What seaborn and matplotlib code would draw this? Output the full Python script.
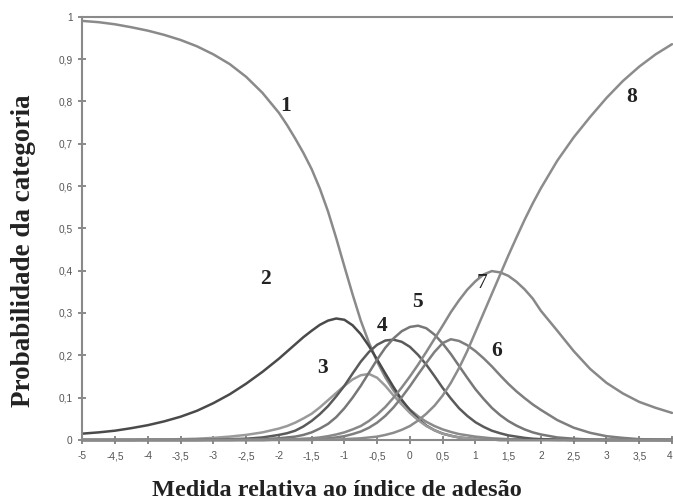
import numpy as np
import pandas as pd
import matplotlib
matplotlib.use('Agg')
import matplotlib.pyplot as plt
import seaborn as sns

sns.set_style('white')
plt.rcParams['font.family'] = ['Liberation Sans', 'DejaVu Sans']

# measure (x axis): every 0.25 on the tails, every 0.125 in the middle
medida = [-5, -4.75, -4.5, -4.25, -4, -3.75, -3.5, -3.25, -3, -2.75, -2.5, -2.25,
          -2, -1.875, -1.75, -1.625, -1.5, -1.375, -1.25, -1.125, -1, -0.875,
          -0.75, -0.625, -0.5, -0.375, -0.25, -0.125, 0, 0.125, 0.25, 0.375,
          0.5, 0.625, 0.75, 0.875, 1, 1.125, 1.25, 1.375, 1.5, 1.625, 1.75, 1.875,
          2, 2.25, 2.5, 2.75, 3, 3.25, 3.5, 3.75, 4]

cat1 = [.990, .987, .982, .975, .967, .957, .945, .930, .911, .888, .858, .820,
        .773, .744, .712, .678, .640, .594, .540, .477, .410, .344,
        .282, .230, .185, .148, .117, .092, .072, .056, .043, .033,
        .025, .019, .014, .011, .008, .006, .004, .003, .002, .002, .001, .001,
        .001, 0, 0, 0, 0, 0, 0, 0, 0]
cat2 = [.015, .018, .022, .028, .035, .044, .055, .069, .087, .108, .133, .161,
        .192, .209, .226, .243, .258, .272, .282, .287, .284, .271,
        .250, .222, .190, .157, .125, .095, .070, .050, .034, .023,
        .015, .010, .006, .004, .002, .001, .001, 0, 0, 0, 0, 0,
        0, 0, 0, 0, 0, 0, 0, 0, 0]
cat3 = [0, 0, 0, 0, .001, .001, .002, .003, .005, .008, .012, .018,
        .027, .033, .041, .051, .062, .077, .094, .111, .128, .143,
        .153, .156, .147, .128, .105, .084, .064, .047, .033, .023,
        .015, .010, .006, .004, .002, .001, .001, 0, 0, 0, 0, 0,
        0, 0, 0, 0, 0, 0, 0, 0, 0]
cat4 = [0, 0, 0, 0, 0, 0, 0, 0, .001, .002, .003, .006,
        .012, .016, .022, .032, .045, .061, .080, .103, .128, .157,
        .185, .208, .225, .235, .237, .232, .220, .201, .178, .151,
        .123, .098, .075, .057, .042, .031, .022, .016, .011, .008, .005, .003,
        .002, .001, 0, 0, 0, 0, 0, 0, 0]
cat5 = [0, 0, 0, 0, 0, 0, 0, 0, 0, 0, .001, .002,
        .004, .006, .008, .012, .018, .027, .038, .054, .075, .100,
        .128, .159, .190, .218, .240, .257, .267, .270, .264, .249,
        .228, .203, .175, .147, .120, .097, .076, .059, .045, .034, .025, .018,
        .013, .006, .003, .001, 0, 0, 0, 0, 0]
cat6 = [0, 0, 0, 0, 0, 0, 0, 0, 0, 0, 0, 0,
        .001, .001, .001, .002, .002, .003, .004, .006, .009, .014,
        .020, .029, .041, .057, .077, .101, .127, .155, .182, .208,
        .229, .238, .234, .224, .210, .193, .174, .153, .133, .115, .099, .084,
        .071, .047, .029, .017, .009, .005, .002, .001, 0]
cat7 = [0, 0, 0, 0, 0, 0, 0, 0, 0, 0, 0, 0,
        .001, .001, .002, .003, .004, .006, .009, .013, .018, .025,
        .033, .045, .060, .078, .100, .124, .150, .178, .208, .239,
        .270, .302, .330, .355, .375, .391, .399, .396, .388, .374, .356, .334,
        .305, .258, .210, .168, .135, .110, .090, .076, .064]
cat8 = [0, 0, 0, 0, 0, 0, 0, 0, 0, 0, 0, 0,
        0, 0, 0, 0, 0, .001, .001, .001, .002, .003,
        .004, .006, .008, .012, .017, .024, .033, .046, .062, .081,
        .105, .135, .170, .210, .255, .300, .345, .390, .435, .478, .520, .559,
        .595, .660, .715, .763, .808, .848, .882, .911, .935]

categorias = ['1', '2', '3', '4', '5', '6', '7', '8']
cores = ['#8a8a8a', '#4a4a4a', '#9a9a9a', '#5a5a5a', '#777777', '#7e7e7e', '#888888', '#8c8c8c']

# where the category numbers sit
rot_x = [-1.9, -2.2, -1.33, -0.43, 0.12, 1.33, 1.1, 3.39]
rot_y = [0.79, 0.38, 0.17, 0.27, 0.325, 0.21, 0.37, 0.81]
rot_peso = ['bold', 'bold', 'bold', 'bold', 'bold', 'bold', 'normal', 'bold']

series = [cat1, cat2, cat3, cat4, cat5, cat6, cat7, cat8]
df = pd.concat([pd.DataFrame({'Medida': medida, 'Prob': s, 'Categoria': c})
                for s, c in zip(series, categorias)], ignore_index=True)

fig = plt.figure(figsize=(6.73, 5.04), dpi=100)
ax = fig.add_axes([0.1223, 0.127, 0.8762, 0.8399])

sns.lineplot(data=df, x='Medida', y='Prob', hue='Categoria', palette=cores,
             linewidth=1.8, legend=False, ax=ax, clip_on=False)

xt = np.arange(-5, 4.01, 0.5)
yt = np.arange(0, 1.01, 0.1)
ax.set_xlim(-5, 4)
ax.set_ylim(0, 1)
ax.set_xticks(xt)
ax.set_yticks(yt)
ax.set_xticklabels([('%g' % v).replace('.', ',') for v in xt])
ax.set_yticklabels([('%g' % round(v, 1)).replace('.', ',') for v in yt])
ax.tick_params(axis='both', direction='inout', length=6, width=1.2, color='#777777',
               labelsize=7.3, labelcolor='#555555', pad=4)
ax.tick_params(axis='x', bottom=True, pad=5)
ax.tick_params(axis='y', left=True)
# last x label sits right on the edge
ax.get_xticklabels()[-1].set_horizontalalignment('right')

for sp in ['left', 'bottom', 'top']:
    ax.spines[sp].set_color('#8a8a8a')
    ax.spines[sp].set_linewidth(1.5)
ax.spines['right'].set_visible(False)
ax.grid(False)

for t, xx, yy, w in zip(categorias, rot_x, rot_y, rot_peso):
    ax.text(xx, yy, t, family='Liberation Serif', fontsize=15.5, fontweight=w,
            color='#222222', ha='center', va='center')

ax.set_xlabel('Medida relativa ao índice de adesão', family='Liberation Serif',
              fontsize=17.5, fontweight='bold', color='#222222')
ax.set_ylabel('Probabilidade da categoria', family='Liberation Serif',
              fontsize=19.5, fontweight='bold', color='#222222')
ax.xaxis.set_label_coords(0.432, -0.095)
ax.yaxis.set_label_coords(-0.079, 0.447)

fig.savefig('out.png', dpi=100)
